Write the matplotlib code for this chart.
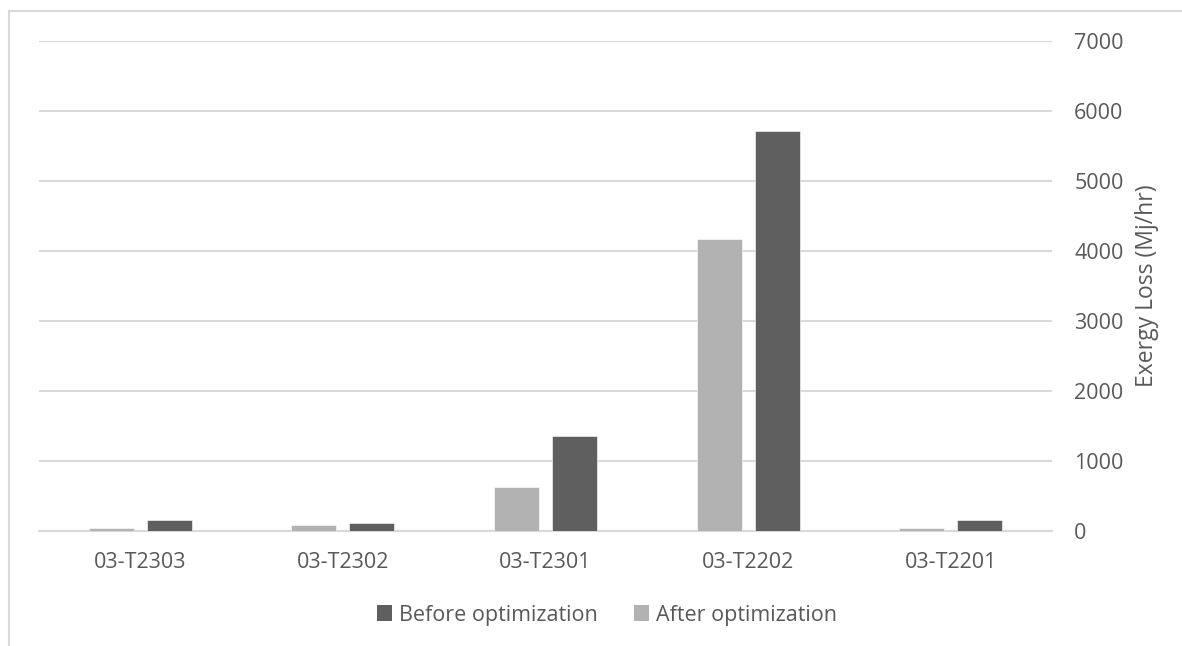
import numpy as np
import matplotlib
matplotlib.use("Agg")
from matplotlib import pyplot as plt
from matplotlib.patches import Rectangle, Patch

categories = ["03-T2303", "03-T2302", "03-T2301", "03-T2202", "03-T2201"]
before_opt = [153, 110, 1357, 5714, 153]
after_opt = [47, 86, 635, 4171, 38]
y_ticks = [0, 1000, 2000, 3000, 4000, 5000, 6000, 7000]

dark = "#5f5f5f"
light = "#b2b2b2"
text_col = "#595959"
grid_col = "#d9d9d9"

plt.rcParams["font.family"] = ["Open Sans", "DejaVu Sans"]

fig = plt.figure(figsize=(11.82, 6.46), dpi=100)
ax = fig.add_axes([39 / 1182, 1 - 531 / 646, (1052 - 39) / 1182, (531 - 41) / 646])

x = np.arange(len(categories))
w = 0.222
off = 0.143
ax.bar(x - off, after_opt, w, color=light, edgecolor="white", linewidth=0.4, zorder=3)
ax.bar(x + off, before_opt, w, color=dark, edgecolor="white", linewidth=0.4, zorder=3)

ax.set_xlim(-0.5, len(categories) - 0.5)
ax.set_ylim(0, 7000)
ax.set_yticks(y_ticks)
ax.set_xticks(x)
ax.set_xticklabels(categories)
ax.yaxis.tick_right()
ax.tick_params(axis="y", length=0, pad=16, labelsize=15.5, labelcolor=text_col)
ax.tick_params(axis="x", length=0, pad=15, labelsize=15.5, labelcolor=text_col)
for lab in ax.get_yticklabels():
    lab.set_horizontalalignment("left")

ax.grid(axis="y", color=grid_col, linewidth=1.5, zorder=0)
for s in ["top", "right", "left"]:
    ax.spines[s].set_visible(False)
ax.spines["bottom"].set_color(grid_col)
ax.spines["bottom"].set_linewidth(1.5)

fig.text(1147 / 1182, 1 - 286 / 646, "Exergy Loss (Mj/hr)", rotation=90,
         ha="center", va="center", fontsize=16.5, color=text_col)

handles = [Patch(facecolor=dark, label="Before optimization"),
           Patch(facecolor=light, label="After optimization")]
fig.legend(handles=handles, loc="center", ncol=2, frameon=False,
           bbox_to_anchor=(607 / 1182, 1 - 615 / 646), fontsize=15.5,
           labelcolor=text_col, handlelength=0.7, handleheight=0.7,
           handletextpad=0.3, columnspacing=1.7)

# chart border (cropped at right and bottom)
fig.patches.append(Rectangle((9 / 1182, -0.1), 1.2, 1 - 11 / 646 + 0.1,
                             transform=fig.transFigure, fill=False,
                             edgecolor=grid_col, linewidth=1.5))

fig.savefig("out.png", dpi=100)
